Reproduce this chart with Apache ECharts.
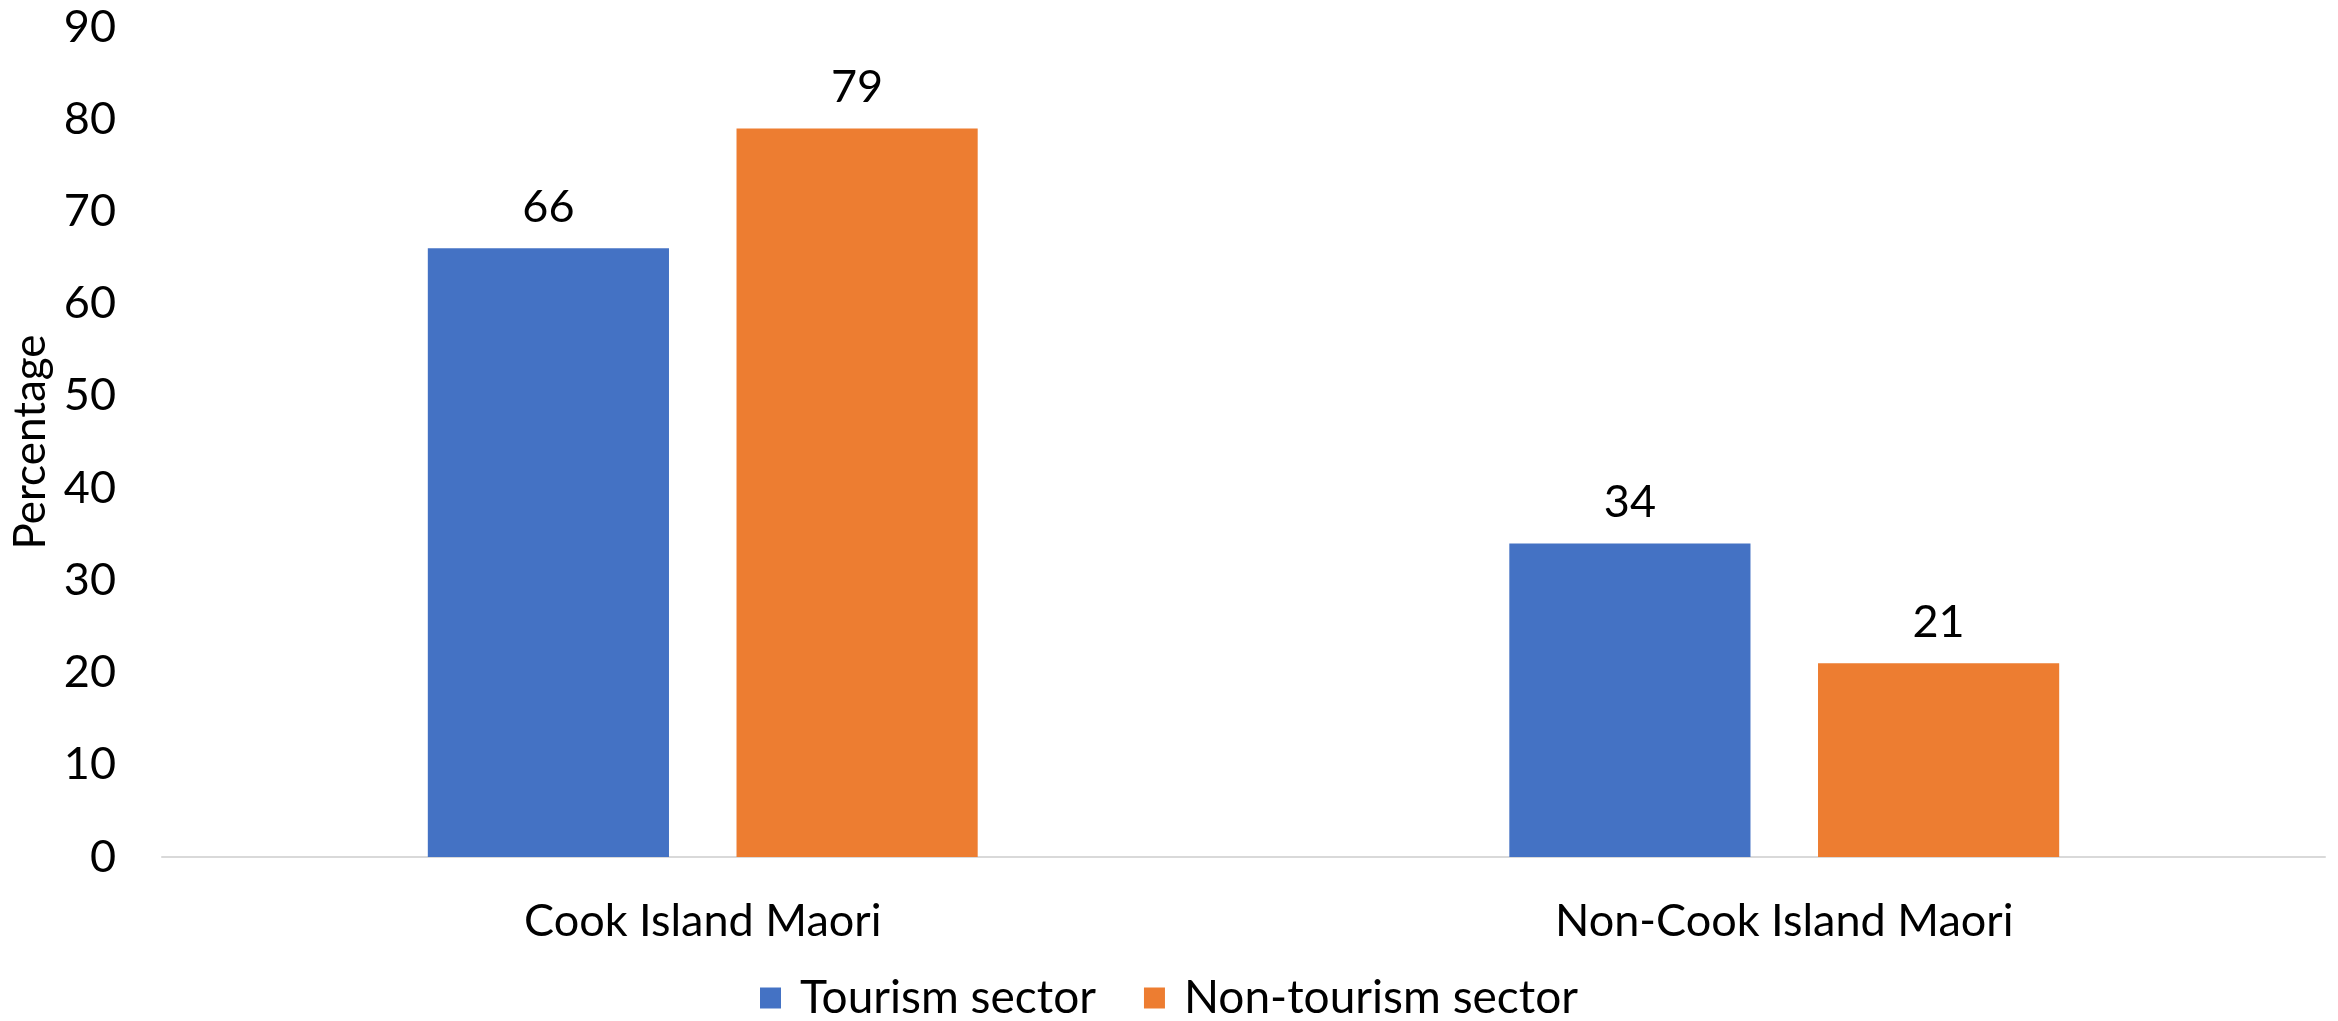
<!DOCTYPE html>
<html>
<head>
<meta charset="utf-8">
<style>
  html, body { margin: 0; padding: 0; background: #ffffff; }
  #chart { width: 2338px; height: 1021px; }
</style>
<script src="https://cdn.jsdelivr.net/npm/echarts@6/dist/echarts.min.js"></script>
</head>
<body>
<div id="chart"></div>
<script>
// Share of workers by ethnicity, tourism vs non-tourism sector (%)
const categories = ['Cook Island Maori', 'Non-Cook Island Maori'];
const tourismSector = [66, 34];
const nonTourismSector = [79, 21];
const yTicks = { min: 0, max: 90, interval: 10 };

const FONT = 'Lato';
const chart = echarts.init(document.getElementById('chart'), null, { renderer: 'canvas' });

chart.setOption({
  animation: false,
  backgroundColor: '#ffffff',
  textStyle: { fontFamily: FONT, color: '#000000' },
  grid: { left: 162, right: 13, top: 27, bottom: 164, containLabel: false, outerBoundsMode: 'none' },
  legend: {
    top: 970,
    left: 'center',
    itemWidth: 21,
    itemHeight: 21,
    itemGap: 48,
    icon: 'rect',
    textStyle: { fontFamily: FONT, fontSize: 46, color: '#000000', padding: [0, 0, 0, 14] },
    data: ['Tourism sector', 'Non-tourism sector']
  },
  xAxis: {
    type: 'category',
    data: categories,
    axisLine: { show: true, lineStyle: { color: '#D9D9D9', width: 2 } },
    axisTick: { show: false },
    axisLabel: { fontFamily: FONT, fontSize: 45, color: '#000000', margin: 42 }
  },
  yAxis: {
    type: 'value',
    min: yTicks.min,
    max: yTicks.max,
    interval: yTicks.interval,
    name: 'Percentage',
    nameLocation: 'middle',
    nameGap: 108,
    nameRotate: 90,
    nameTextStyle: { fontFamily: FONT, fontSize: 44, color: '#000000' },
    axisLine: { show: false },
    axisTick: { show: false },
    splitLine: { show: false },
    axisLabel: { fontFamily: FONT, fontSize: 45, color: '#000000', margin: 46 }
  },
  series: [
    {
      name: 'Tourism sector',
      type: 'bar',
      data: tourismSector,
      barWidth: '22.3%',
      barGap: '28%',
      itemStyle: { color: '#4472C4' },
      label: { show: true, position: 'top', distance: 18, fontFamily: FONT, fontSize: 45, color: '#000000' }
    },
    {
      name: 'Non-tourism sector',
      type: 'bar',
      data: nonTourismSector,
      barWidth: '22.3%',
      barGap: '28%',
      itemStyle: { color: '#ED7D31' },
      label: { show: true, position: 'top', distance: 18, fontFamily: FONT, fontSize: 45, color: '#000000' }
    }
  ]
});
</script>
</body>
</html>
